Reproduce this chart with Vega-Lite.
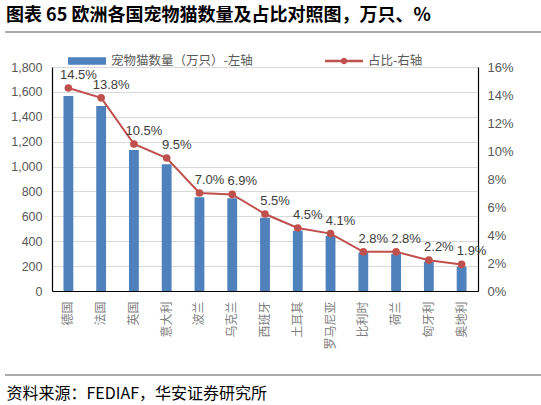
{
  "$schema": "https://vega.github.io/schema/vega-lite/v6.json",
  "width": 426,
  "height": 224,
  "autosize": {"type": "none"},
  "padding": {"left": 52, "top": 67, "right": 63, "bottom": 114},
  "background": "white",
  "title": {
    "text": "图表 65  欧洲各国宠物猫数量及占比对照图，万只、%",
    "anchor": "start",
    "frame": "group",
    "dx": -46,
    "offset": 6,
    "font": "Noto Sans CJK SC",
    "fontSize": 18,
    "fontWeight": "bold",
    "color": "#000000"
  },
  "config": {
    "view": {"stroke": null},
    "axis": {"labelFont": "Liberation Sans", "titleFont": "Noto Sans CJK SC"}
  },
  "data": {
    "values": [
      {"country": "德国", "cats": 1567, "pct": 0.145},
      {"country": "法国", "cats": 1487, "pct": 0.138},
      {"country": "英国", "cats": 1133, "pct": 0.105},
      {"country": "意大利", "cats": 1018, "pct": 0.095},
      {"country": "波兰", "cats": 753, "pct": 0.070},
      {"country": "乌克兰", "cats": 745, "pct": 0.069},
      {"country": "西班牙", "cats": 589, "pct": 0.055},
      {"country": "土耳其", "cats": 485, "pct": 0.045},
      {"country": "罗马尼亚", "cats": 442, "pct": 0.041},
      {"country": "比利时", "cats": 308, "pct": 0.028},
      {"country": "荷兰", "cats": 297, "pct": 0.028},
      {"country": "匈牙利", "cats": 236, "pct": 0.022},
      {"country": "奥地利", "cats": 195, "pct": 0.019}
    ]
  },
  "layer": [
    {
      "mark": {"type": "bar", "color": "#4f81bd"},
      "encoding": {
        "x": {
          "field": "country",
          "type": "nominal",
          "sort": null,
          "scale": {"paddingInner": 0.7, "paddingOuter": 0.35},
          "axis": {
            "title": "资料来源：FEDIAF，华安证券研究所",
            "titleX": -46,
            "titleY": 102,
            "titleAlign": "left",
            "titleBaseline": "middle",
            "titleFontSize": 16,
            "titleFontWeight": "normal",
            "titleColor": "#000000",
            "labelAngle": 270,
            "labelFont": "Noto Sans CJK SC",
            "labelFontSize": 12,
            "labelColor": "#7f7f7f",
            "labelPadding": 10,
            "ticks": false,
            "domainColor": "#000000",
            "domainWidth": 1.2
          }
        },
        "y": {
          "field": "cats",
          "type": "quantitative",
          "scale": {"domain": [0, 1800], "nice": false},
          "axis": {
            "title": null,
            "values": [0, 200, 400, 600, 800, 1000, 1200, 1400, 1600, 1800],
            "format": ",.0f",
            "grid": true,
            "gridColor": "#d9d9d9",
            "ticks": false,
            "domainColor": "#000000",
            "domainWidth": 1.2,
            "labelPadding": 10,
            "labelFontSize": 12.5,
            "labelColor": "#595959"
          }
        },
        "color": {
          "datum": "宠物猫数量（万只）-左轴",
          "scale": {"range": ["#4f81bd"]},
          "legend": {
            "title": null,
            "orient": "none",
            "legendX": 16,
            "legendY": -25,
            "symbolType": "M-1,-0.2H1V0.2H-1Z",
            "symbolSize": 1444,
            "symbolStrokeWidth": 0,
            "labelOffset": 5,
            "labelFont": "Noto Sans CJK SC",
            "labelFontSize": 12.5,
            "labelColor": "#595959"
          }
        }
      }
    },
    {
      "encoding": {
        "x": {"field": "country", "type": "nominal", "sort": null},
        "y": {
          "field": "pct",
          "type": "quantitative",
          "scale": {"domain": [0, 0.16], "nice": false},
          "axis": {
            "title": null,
            "orient": "right",
            "values": [0, 0.02, 0.04, 0.06, 0.08, 0.1, 0.12, 0.14, 0.16],
            "format": ".0%",
            "grid": false,
            "ticks": false,
            "domainColor": "#000000",
            "domainWidth": 1.2,
            "labelPadding": 9,
            "labelFontSize": 13,
            "labelColor": "#595959"
          }
        }
      },
      "layer": [
        {
          "mark": {
            "type": "line",
            "color": "#c0504d",
            "strokeWidth": 2,
            "point": {"filled": true, "size": 32, "color": "#c0504d"}
          },
          "encoding": {
            "stroke": {
              "datum": "占比-右轴",
              "scale": {"range": ["#c0504d"]},
              "legend": {
                "title": null,
                "orient": "none",
                "legendX": 273,
                "legendY": -25,
                "symbolType": "M-1,-0.06H1V0.06H-1Z M-0.17,0A0.17,0.17,0,1,1,0.17,0A0.17,0.17,0,1,1,-0.17,0Z",
                "symbolSize": 1444,
                "symbolFillColor": "#c0504d",
                "symbolStrokeWidth": 0,
                "labelOffset": 5,
                "labelFont": "Noto Sans CJK SC",
                "labelFontSize": 12.5,
                "labelColor": "#595959",
                "encode": {"symbols": {"update": {"fill": {"value": "#c0504d"}, "strokeWidth": {"value": 0}}}}
              }
            }
          }
        },
        {
          "mark": {
            "type": "text",
            "dx": 10,
            "dy": -13,
            "font": "Liberation Sans",
            "fontSize": 13,
            "color": "#404040"
          },
          "encoding": {
            "text": {"field": "pct", "type": "quantitative", "format": ".1%"}
          }
        }
      ]
    },
    {
      "data": {"values": [{"line": "top"}]},
      "mark": {"type": "rule", "color": "#8c8c8c", "strokeWidth": 1.5},
      "encoding": {
        "x": {"value": -47},
        "x2": {"value": 489},
        "y": {"value": -35}
      }
    },
    {
      "data": {"values": [{"line": "bottom"}]},
      "mark": {"type": "rule", "color": "#8c8c8c", "strokeWidth": 1.5},
      "encoding": {
        "x": {"value": -47},
        "x2": {"value": 489},
        "y": {"value": 308}
      }
    }
  ],
  "resolve": {"scale": {"y": "independent"}}
}
